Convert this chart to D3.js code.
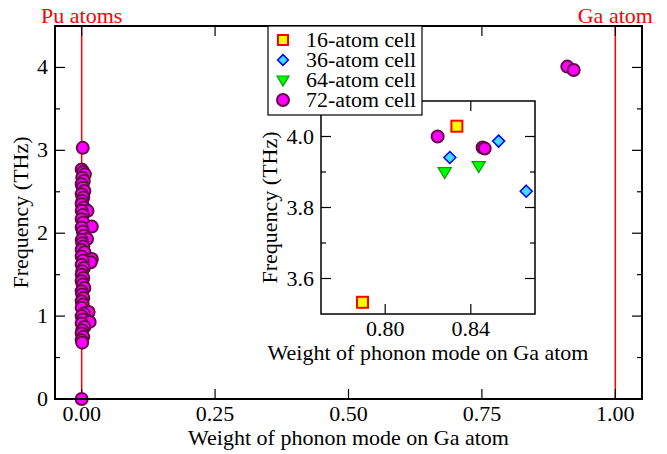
<!DOCTYPE html>
<html>
<head>
<meta charset="utf-8">
<script src="https://cdn.jsdelivr.net/npm/d3@7"></script>
<style>
    body { margin: 0; background: #fff; }
    svg { display: block; font-family: 'Liberation Serif', 'DejaVu Serif', serif; }
</style>
</head>
<body>
<div id="root"></div>
<script>
// Main panel: 72-atom cell modes, [weight on Ga, frequency THz]
const mainCircles = [
    [0.000, 0.00], [0.002, 3.03],
    [0.000, 2.77], [0.003, 2.74], [0.006, 2.71], [0.001, 2.67], [0.004, 2.63],
    [0.000, 2.59], [0.002, 2.55], [0.005, 2.51], [0.000, 2.47], [0.003, 2.43],
    [0.001, 2.39], [0.000, 2.35], [0.004, 2.31], [0.011, 2.27], [0.000, 2.27],
    [0.002, 2.22], [0.000, 2.17], [0.003, 2.13], [0.019, 2.08], [0.000, 2.07],
    [0.002, 2.02], [0.004, 1.97], [0.010, 1.93], [0.000, 1.92], [0.001, 1.88],
    [0.003, 1.84], [0.000, 1.80], [0.005, 1.77], [0.000, 1.72], [0.019, 1.69],
    [0.017, 1.65], [0.002, 1.67], [0.000, 1.62], [0.004, 1.58], [0.001, 1.54],
    [0.000, 1.50], [0.003, 1.46], [0.000, 1.42], [0.002, 1.38], [0.005, 1.34],
    [0.000, 1.30], [0.001, 1.26], [0.003, 1.22], [0.000, 1.18], [0.002, 1.14],
    [0.000, 1.10], [0.013, 1.05], [0.004, 1.03], [0.000, 1.00], [0.002, 0.96],
    [0.015, 0.93], [0.000, 0.91], [0.005, 0.87], [0.001, 0.83], [0.000, 0.79],
    [0.003, 0.75], [0.000, 0.71], [0.001, 0.68],
    [0.910, 4.01], [0.922, 3.97],
];

// Inset: high-frequency Ga modes
const inset16 = [[0.7894, 3.533], [0.8335, 4.029]];
const inset36 = [[0.8302, 3.941], [0.8530, 3.987], [0.8659, 3.846]];
const inset64 = [[0.8278, 3.900], [0.8437, 3.917]];
const inset72 = [[0.8245, 4.000], [0.8455, 3.969], [0.8465, 3.966]];

const legendLabels = ['16-atom cell', '36-atom cell', '64-atom cell', '72-atom cell'];
const mainXTicks = [0, 0.25, 0.5, 0.75, 1];
const mainYTicks = [0, 1, 2, 3, 4];
const mainYMinor = [0.5, 1.5, 2.5, 3.5];
const insetXTicks = [0.80, 0.84];
const insetYTicks = [3.6, 3.8, 4.0];
const insetYMinor = [3.7, 3.9];

const Width = 667;
const Height = 454;
const Main = { left: 55, right: 642, top: 26, bottom: 399 };
const Inset = { left: 321, right: 535, top: 101, bottom: 314 };
const FontSize = 22;

const Styles = {
    square: { fill: '#ffff00', stroke: '#ff0000' },
    diamond: { fill: '#40dcff', stroke: '#0000ff' },
    triangle: { fill: '#00ff00', stroke: '#00a000' },
    circle: { fill: '#ff00ff', stroke: '#670748' },
};

const svg = d3.select('#root')
    .append('svg')
    .attr('width', Width)
    .attr('height', Height);

svg.append('rect').attr('width', Width).attr('height', Height).attr('fill', '#fff');

function drawPanel(g, box, x, y, opts) {
    // tick marks on all four sides, pointing inward
    const tk = g.append('g').attr('stroke', '#000').attr('stroke-width', 1.2);
    opts.xTicks.forEach(v => {
        tk.append('line').attr('x1', x(v)).attr('x2', x(v)).attr('y1', box.bottom).attr('y2', box.bottom - 10);
        tk.append('line').attr('x1', x(v)).attr('x2', x(v)).attr('y1', box.top).attr('y2', box.top + 10);
    });
    opts.yTicks.forEach(v => {
        tk.append('line').attr('y1', y(v)).attr('y2', y(v)).attr('x1', box.left).attr('x2', box.left + 10);
        tk.append('line').attr('y1', y(v)).attr('y2', y(v)).attr('x1', box.right).attr('x2', box.right - 10);
    });
    opts.yMinor.forEach(v => {
        tk.append('line').attr('y1', y(v)).attr('y2', y(v)).attr('x1', box.left).attr('x2', box.left + 5);
        tk.append('line').attr('y1', y(v)).attr('y2', y(v)).attr('x1', box.right).attr('x2', box.right - 5);
    });

    g.append('g').selectAll('text.xt')
        .data(opts.xTicks)
        .join('text')
        .attr('x', d => x(d))
        .attr('y', box.bottom + 22)
        .attr('text-anchor', 'middle')
        .attr('font-size', FontSize)
        .text(opts.xFormat);

    g.append('g').selectAll('text.yt')
        .data(opts.yTicks)
        .join('text')
        .attr('x', box.left - 7)
        .attr('y', d => y(d) + 7)
        .attr('text-anchor', 'end')
        .attr('font-size', FontSize)
        .text(opts.yFormat);

    g.append('text')
        .attr('x', (box.left + box.right) / 2)
        .attr('y', box.bottom + 46)
        .attr('text-anchor', 'middle')
        .attr('font-size', FontSize)
        .text('Weight of phonon mode on Ga atom');

    g.append('text')
        .attr('transform', `translate(${opts.yTitleX}, ${(box.top + box.bottom) / 2}) rotate(-90)`)
        .attr('text-anchor', 'middle')
        .attr('font-size', FontSize)
        .text('Frequency (THz)');
}

function drawMarkers(g, data, shape, x, y, r) {
    const st = Styles[shape];
    const sel = g.append('g')
        .attr('fill', st.fill)
        .attr('stroke', st.stroke)
        .attr('stroke-width', 2);
    if (shape === 'circle') {
        sel.selectAll('circle').data(data).join('circle')
            .attr('cx', d => x(d[0])).attr('cy', d => y(d[1])).attr('r', r);
    } else if (shape === 'square') {
        sel.selectAll('rect').data(data).join('rect')
            .attr('x', d => x(d[0]) - r).attr('y', d => y(d[1]) - r)
            .attr('width', 2 * r).attr('height', 2 * r);
    } else if (shape === 'diamond') {
        sel.attr('stroke-width', 1.5).selectAll('path').data(data).join('path')
            .attr('d', d => `M${x(d[0])},${y(d[1]) - r * 1.2}L${x(d[0]) + r * 1.2},${y(d[1])}L${x(d[0])},${y(d[1]) + r * 1.2}L${x(d[0]) - r * 1.2},${y(d[1])}Z`);
    } else {
        sel.attr('stroke-width', 1.2).selectAll('path').data(data).join('path')
            .attr('d', d => `M${x(d[0]) - r * 1.2},${y(d[1]) - r * 0.8}L${x(d[0]) + r * 1.2},${y(d[1]) - r * 0.8}L${x(d[0])},${y(d[1]) + r * 1.2}Z`);
    }
}

// ---- main panel
const x = d3.scaleLinear().domain([-0.05, 1.05]).range([Main.left, Main.right]);
const y = d3.scaleLinear().domain([0, 4.5]).range([Main.bottom, Main.top]);
const mainG = svg.append('g');

// red guide lines at pure Pu and pure Ga weights
mainG.append('g').attr('stroke', '#ff0000').attr('stroke-width', 1.5)
    .selectAll('line').data([0, 1]).join('line')
    .attr('x1', d => x(d)).attr('x2', d => x(d))
    .attr('y1', Main.top).attr('y2', Main.bottom);

drawPanel(mainG, Main, x, y, {
    xTicks: mainXTicks,
    yTicks: mainYTicks,
    yMinor: mainYMinor,
    xFormat: d3.format('.2f'),
    yFormat: d3.format('d'),
    yTitleX: 28,
});

drawMarkers(mainG, mainCircles, 'circle', x, y, 6);

mainG.append('rect')
    .attr('x', Main.left).attr('y', Main.top)
    .attr('width', Main.right - Main.left).attr('height', Main.bottom - Main.top)
    .attr('fill', 'none').attr('stroke', '#000').attr('stroke-width', 2);

mainG.append('g').attr('fill', '#ff0000').attr('font-size', FontSize)
    .selectAll('text')
    .data([{ v: 0, t: 'Pu atoms' }, { v: 1, t: 'Ga atom' }])
    .join('text')
    .attr('x', d => x(d.v))
    .attr('y', 23)
    .attr('text-anchor', 'middle')
    .text(d => d.t);

// ---- inset
const xi = d3.scaleLinear().domain([0.77, 0.87]).range([Inset.left, Inset.right]);
const yi = d3.scaleLinear().domain([3.5, 4.1]).range([Inset.bottom, Inset.top]);
const insetG = svg.append('g');
insetG.append('rect')
    .attr('x', Inset.left).attr('y', Inset.top)
    .attr('width', Inset.right - Inset.left).attr('height', Inset.bottom - Inset.top)
    .attr('fill', '#fff');

drawPanel(insetG, Inset, xi, yi, {
    xTicks: insetXTicks,
    yTicks: insetYTicks,
    yMinor: insetYMinor,
    xFormat: d3.format('.2f'),
    yFormat: d3.format('.1f'),
    yTitleX: Inset.left - 44,
});

drawMarkers(insetG, inset16, 'square', xi, yi, 5.5);
drawMarkers(insetG, inset36, 'diamond', xi, yi, 5);
drawMarkers(insetG, inset64, 'triangle', xi, yi, 5.5);
drawMarkers(insetG, inset72, 'circle', xi, yi, 6);

insetG.append('rect')
    .attr('x', Inset.left).attr('y', Inset.top)
    .attr('width', Inset.right - Inset.left).attr('height', Inset.bottom - Inset.top)
    .attr('fill', 'none').attr('stroke', '#000').attr('stroke-width', 1.5);

// ---- legend
const Legend = { left: 268, right: 422, top: 26, bottom: 115, row: 20 };
const legG = svg.append('g');
legG.append('rect')
    .attr('x', Legend.left).attr('y', Legend.top)
    .attr('width', Legend.right - Legend.left).attr('height', Legend.bottom - Legend.top)
    .attr('fill', '#fff').attr('stroke', '#000').attr('stroke-width', 1.2);

const shapes = ['square', 'diamond', 'triangle', 'circle'];
const sizes = [5, 4.5, 5, 6];
const ly = d3.scaleLinear().domain([0, 3]).range([Legend.top + 14, Legend.top + 14 + 3 * Legend.row]);
shapes.forEach((s, i) => {
    drawMarkers(legG, [[i, i]], s, () => Legend.left + 15, v => ly(v), sizes[i]);
});
legG.append('g').attr('font-size', 20)
    .selectAll('text').data(legendLabels).join('text')
    .attr('x', Legend.left + 38)
    .attr('y', (d, i) => ly(i) + 7)
    .attr('textLength', 110)
    .attr('lengthAdjust', 'spacingAndGlyphs')
    .text(d => d);
</script>
</body>
</html>
